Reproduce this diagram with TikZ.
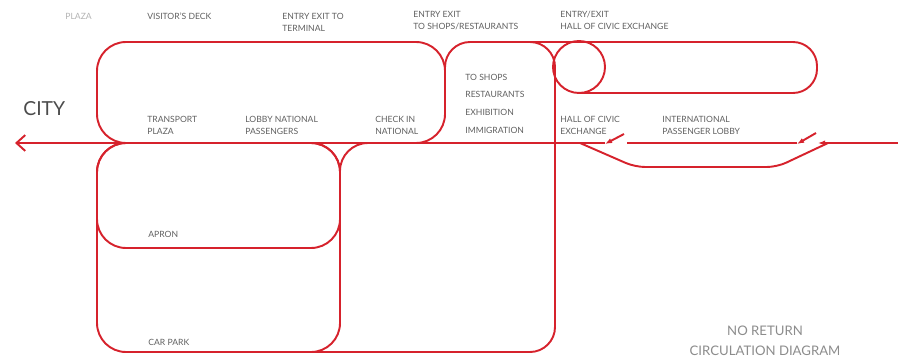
\documentclass[tikz,border=0pt]{standalone}
\usepackage{fontspec}
\setmainfont{Lato}
\usetikzlibrary{arrows.meta, calc}
\definecolor{routered}{RGB}{214,34,44}
\definecolor{labelgray}{RGB}{95,95,95}
\tikzset{
  walk/.style={draw=routered, line width=1.1pt},
  lbl/.style={font=\fontsize{4.9}{6.6}\selectfont, text=labelgray,
    anchor=north west, inner sep=0pt, align=left},
}

\begin{document}
\begin{tikzpicture}[x=0.02cm, y=-0.02cm]
  \useasboundingbox (0,0) rectangle (898,358);

  % 坐标定义
  \coordinate (city) at (15,143);
  \coordinate (gate1) at (605,143);
  \coordinate (gate2) at (797,143);

  % 上部:航站楼大厅
  \draw[walk, rounded corners=0.58cm] (97,42) rectangle (445,143);
  % 商店环线 + 右侧大厅
  \draw[walk, rounded corners=0.5cm] (313,352) -- (555,352) -- (555,42) -- (445,42) -- (445,110);
  \draw[walk, rounded corners=0.56cm] (340,220) -- (340,143) -- (420,143);
  % 市民交流大厅
  \draw[walk, rounded corners=0.48cm] (530,42) -- (817,42) -- (817,93) -- (579,93);
  \draw[walk] (579,67) circle[radius=0.52cm];

  % 下部:停机坪,停车场
  \draw[walk, rounded corners=0.58cm] (97,143) rectangle (340,248);
  \draw[walk, rounded corners=0.58cm] (97,143) rectangle (340,352);

  % 主通道,通往城市
  \draw[walk, -{Straight Barb[length=5pt,width=9pt]}] (gate1) -- (city);
  % 单向门
  \draw[walk, -{Latex[length=4pt,width=3pt]}] (624,134) -- ($(gate1)+(0,1)$);
  \draw[walk] (627,143) -- (gate2);
  \draw[walk, -{Latex[length=4pt,width=3pt]}] (816,133) -- ($(gate2)+(0,1)$);
  \draw[walk, -{Latex[length=4pt,width=3pt]}] (898,143) -- (818,143);
  % 旁路
  \draw[walk, rounded corners=0.2cm] (580,143) -- (635,167) -- (777,167) -- (828,143);

  % 文字
  \node[font=\fontsize{11}{12}\selectfont, text=black!70, anchor=base west,
    inner sep=0pt] (citylbl) at (23,115) {CITY};
  \node[lbl, text=black!30] (plaza) at (65,13) {PLAZA};
  \node[lbl] (visdeck) at (147,13) {VISITOR'S DECK};
  \node[lbl] (entryterm) at (282,13) {ENTRY EXIT TO\\TERMINAL};
  \node[lbl] (entryshop) at (413,11) {ENTRY EXIT\\TO SHOPS/RESTAURANTS};
  \node[lbl] (entryhall) at (560,11) {ENTRY/EXIT\\HALL OF CIVIC EXCHANGE};
  \node[lbl] (transport) at (147,116) {TRANSPORT\\PLAZA};
  \node[lbl] (lobbynat) at (245,116) {LOBBY NATIONAL\\PASSENGERS};
  \node[lbl] (checkin) at (375,116) {CHECK IN\\NATIONAL};
  \node[lbl] (toshops) at (465,74) {TO SHOPS};
  \node[lbl] (restaur) at (465,91) {RESTAURANTS};
  \node[lbl] (exhib) at (465,109) {EXHIBITION};
  \node[lbl] (immig) at (465,127) {IMMIGRATION};
  \node[lbl] (hallcivic) at (560,116) {HALL OF CIVIC\\EXCHANGE};
  \node[lbl] (intlobby) at (662,116) {INTERNATIONAL\\PASSENGER LOBBY};
  \node[lbl] (apron) at (148,231) {APRON};
  \node[lbl] (carpark) at (148,339) {CAR PARK};
  \node[font=\fontsize{7.5}{11}\selectfont, text=black!45, align=center,
    inner sep=0pt, anchor=north] (noreturn) at (765,326) {NO RETURN\\CIRCULATION DIAGRAM};
\end{tikzpicture}
\end{document}
